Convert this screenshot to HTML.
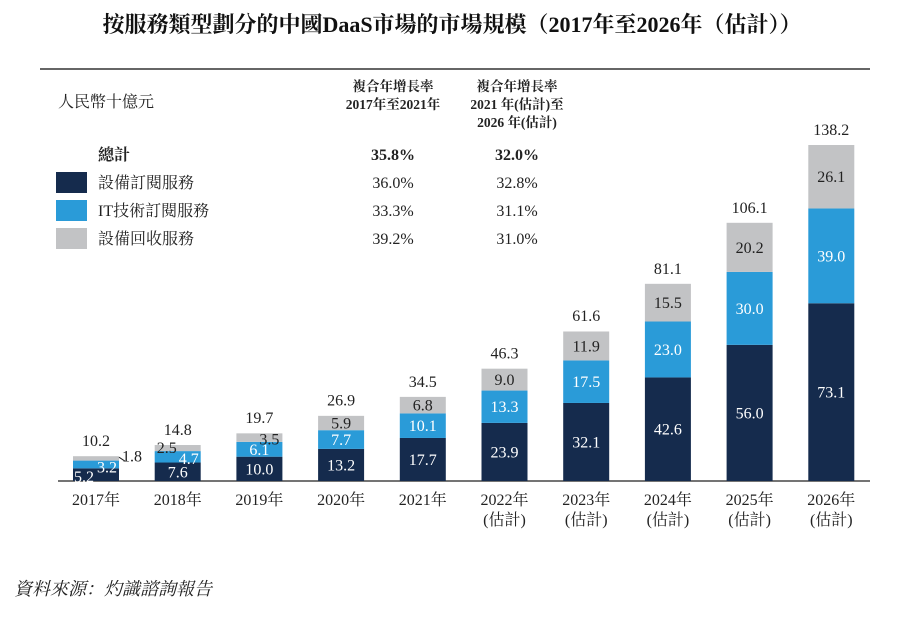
<!DOCTYPE html>
<html><head><meta charset="utf-8">
<style>
body{margin:0;background:#fff;width:903px;height:612px;overflow:hidden;font-family:"Liberation Serif","Noto Serif CJK SC",serif;}
svg text{font-family:"Liberation Serif","Noto Serif CJK SC",serif;}
</style></head>
<body>
<svg id="chart" width="903" height="612" xmlns="http://www.w3.org/2000/svg">
<text x="452" y="32" text-anchor="middle" font-size="22" font-weight="bold" fill="#111">按服務類型劃分的中國DaaS市場的市場規模（2017年至2026年（估計））</text>
<line x1="40" y1="69" x2="870" y2="69" stroke="#333" stroke-width="1.5"/>
<text x="58" y="107" font-size="16" fill="#222">人民幣十億元</text>
<g font-size="13.5" font-weight="bold" fill="#222" text-anchor="middle">
<text x="393" y="91">複合年增長率</text><text x="393" y="109">2017年至2021年</text></g>
<g font-size="13.5" font-weight="bold" fill="#222" text-anchor="middle">
<text x="517" y="91">複合年增長率</text><text x="517" y="109">2021 年(估計)至</text><text x="517" y="127">2026 年(估計)</text></g>
<g id="legend" font-size="16" fill="#222"></g>
<line x1="58" y1="481" x2="870" y2="481" stroke="#222" stroke-width="1.2"/>
<g id="bars"></g>
<text x="14" y="595" font-size="18" font-style="italic" fill="#222">資料來源：灼識諮詢報告</text>
</svg>
<script>
const years=["2017年","2018年","2019年","2020年","2021年","2022年","2023年","2024年","2025年","2026年"];
const estimated=[false,false,false,false,false,true,true,true,true,true];
const equipSub=[5.2,7.6,10.0,13.2,17.7,23.9,32.1,42.6,56.0,73.1];
const itSub=[3.2,4.7,6.1,7.7,10.1,13.3,17.5,23.0,30.0,39.0];
const recycle=[1.8,2.5,3.5,5.9,6.8,9.0,11.9,15.5,20.2,26.1];
const totals=[10.2,14.8,19.7,26.9,34.5,46.3,61.6,81.1,106.1,138.2];
const legendNames=["總計","設備訂閱服務","IT技術訂閱服務","設備回收服務"];
const cagr1=["35.8%","36.0%","33.3%","39.2%"];
const cagr2=["32.0%","32.8%","31.1%","31.0%"];
const NS="http://www.w3.org/2000/svg";
const colors=["#152b4d","#2a9bd8","#c2c3c5"];
const base=481, scale=(481-145)/138.2;
const y=v=>base-v*scale;
const xc=i=>96+i*81.7;
const bw=46;
function mk(tag,attrs,parent,txt){const e=document.createElementNS(NS,tag);for(const k in attrs)e.setAttribute(k,attrs[k]);if(txt!==undefined)e.textContent=txt;parent.appendChild(e);return e;}
const lg=document.getElementById('legend');
legendNames.forEach((n,i)=>{
  const yy=160+i*28;
  if(i>0){const r=mk('rect',{x:56,y:yy-16,width:31,height:21,fill:colors[i-1]},lg);
  
  }
  const t=mk('text',{x:98,y:yy,'font-weight':i==0?'bold':'normal'},lg,n);
  
  
  const a=mk('text',{x:393,y:yy,'text-anchor':'middle','font-weight':i==0?'bold':'normal'},lg,cagr1[i]);
  
  
  const b=mk('text',{x:517,y:yy,'text-anchor':'middle','font-weight':i==0?'bold':'normal'},lg,cagr2[i]);
  
  
});
const g=document.getElementById('bars');
const series=[equipSub,itSub,recycle];
const sn=["equipment","it","recycle"];
years.forEach((yr,i)=>{
  let cum=0;
  series.forEach((s,k)=>{
    const v=s[i];
    const r=mk('rect',{x:xc(i)-bw/2,y:y(cum+v),width:bw,height:v*scale,fill:colors[k]},g);
    
    
    let lx=xc(i), ly=y(cum+v/2)+5.5;
    if(i==0){ if(k==0){lx=xc(i)-12;ly=base+1;} if(k==1){lx=xc(i)+11;ly=y(cum+v/2)+8;} if(k==2){lx=xc(i)+36;ly=y(cum)+1;} }
    if(i==1){ if(k==1){lx=xc(i)+11;ly=y(cum+v/2)+7;} if(k==2){lx=xc(i)-11;ly=y(cum+v)+8;} }
    if(i==2 && k==2){lx=xc(i)+10;ly=y(cum+v)+11;}
    const t=mk('text',{x:lx,y:ly,'text-anchor':'middle','font-size':16,fill:k==2?'#222':'#fff'},g,v.toFixed(1));
    
    
    cum+=v;
  });
  if(i==0){mk('line',{x1:xc(i)+23,y1:y(cum)+1,x2:xc(i)+29,y2:y(cum)+5,stroke:'#222','stroke-width':1},g);}
  const tt=mk('text',{x:xc(i),y:y(totals[i])-10,'text-anchor':'middle','font-size':16,fill:'#222'},g,totals[i].toFixed(1));
  
  
  const xl=mk('text',{x:xc(i),y:505,'text-anchor':'middle','font-size':16,fill:'#222'},g,yr);
  
  
  if(estimated[i]){const e=mk('text',{x:xc(i),y:525,'text-anchor':'middle','font-size':16,fill:'#222'},g,'(估計)');
  
  }
});
</script>
</body></html>
